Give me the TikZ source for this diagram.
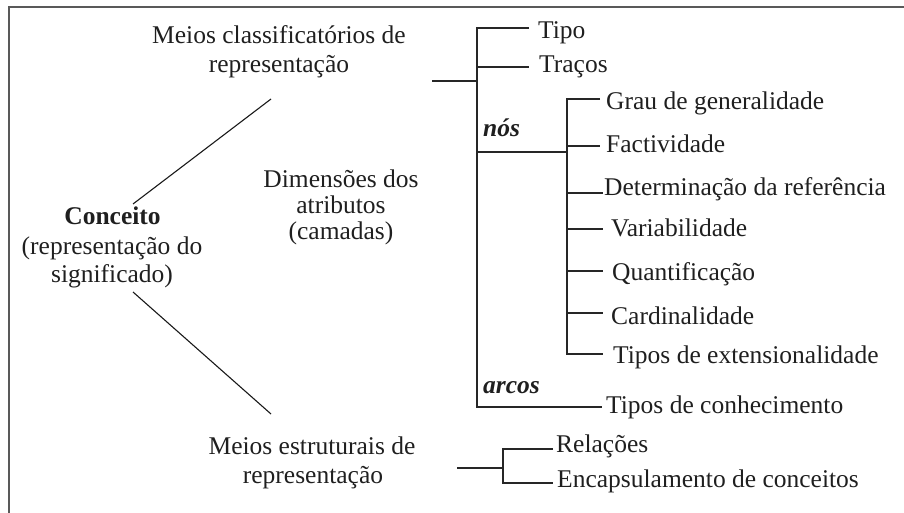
\documentclass[tikz,border=0pt]{standalone}
\usepackage{fontspec}
\setmainfont{Liberation Serif}
\begin{document}
\begin{tikzpicture}[x=1pt,y=-1pt,
  lbl/.style={inner sep=0pt, font=\fontsize{25.5}{30}\selectfont, text=black!88},
  lw/.style={lbl, anchor=base west},
  lc/.style={lbl, anchor=base},
  tree/.style={line width=1.6pt, draw=black!85},
  diag/.style={line width=1.1pt, draw=black!90},
  frame/.style={line width=2pt, draw=black!65}]
\useasboundingbox (0,0) rectangle (904,513);
% frame
\coordinate (f0) at (9,513);
\coordinate (f1) at (9,7.5);
\coordinate (f2) at (904,7.5);
\draw[frame] (f0) -- (f1) -- (f2);

% left labels
\node[lc] (c1) at (112.5,224) {\textbf{Conceito}};
\node[lc] (c2) at (112,254) {(representação do};
\node[lc] (c3) at (112,282) {significado)};
\node[lc] (m1) at (279,44) {Meios classificatórios de};
\node[lc] (m2) at (279,73) {representação};
\node[lc] (d1) at (341,188) {Dimensões dos};
\node[lc] (d2) at (341,213) {atributos};
\node[lc] (d3) at (341,239) {(camadas)};
\node[lc] (s1) at (312,454) {Meios estruturais de};
\node[lc] (s2) at (313,483) {representação};

% diagonals
\coordinate (u0) at (133,204);
\coordinate (u1) at (271,99);
\coordinate (l0) at (133,292);
\coordinate (l1) at (271,414);
\draw[diag] (u0) -- (u1);
\draw[diag] (l0) -- (l1);

% right labels
\node[lw] (tipo) at (538,39) {Tipo};
\node[lw] (tracos) at (539,73) {Traços};
\node[lw] (nos) at (483,137) {\textbf{\textit{nós}}};
\node[lw] (grau) at (606,110) {Grau de generalidade};
\node[lw] (fact) at (606,153) {Factividade};
\node[lw] (det) at (604,195) {Determinação da referência};
\node[lw] (var) at (611,236) {Variabilidade};
\node[lw] (quant) at (612,280) {Quantificação};
\node[lw] (card) at (611,324) {Cardinalidade};
\node[lw] (ext) at (613,363) {Tipos de extensionalidade};
\node[lw] (arcos) at (483,393) {\textbf{\textit{arcos}}};
\node[lw] (conh) at (606,413) {Tipos de conhecimento};
\node[lw] (rel) at (556,452) {Relações};
\node[lw] (enc) at (557,487) {Encapsulamento de conceitos};

% main tree
\coordinate (a0) at (432,81);
\coordinate (a1) at (477,81);
\coordinate (vT) at (477,28);
\coordinate (vB) at (477,407);
\coordinate (bTipo) at (529,28);
\coordinate (vTr) at (477,67);
\coordinate (bTr) at (529,67);
\coordinate (vN) at (477,152);
\coordinate (nJ) at (567,152);
\coordinate (bArc) at (602,407);
\draw[tree] (a0) -- (a1);
\draw[tree] (bTipo) -- (vT) -- (vB) -- (bArc);
\draw[tree] (vTr) -- (bTr);
\draw[tree] (vN) -- (nJ);

% nos subtree
\coordinate (sT) at (567,99);
\coordinate (sB) at (567,354);
\coordinate (g1) at (600,99);
\coordinate (s2a) at (567,146);
\coordinate (g2) at (600,146);
\coordinate (s3a) at (567,193);
\coordinate (g3) at (603,193);
\coordinate (s4a) at (567,229);
\coordinate (g4) at (603,229);
\coordinate (s5a) at (567,271);
\coordinate (g5) at (603,271);
\coordinate (s6a) at (567,313);
\coordinate (g6) at (603,313);
\coordinate (g7) at (603,354);
\draw[tree] (g1) -- (sT) -- (sB) -- (g7);
\draw[tree] (s2a) -- (g2);
\draw[tree] (s3a) -- (g3);
\draw[tree] (s4a) -- (g4);
\draw[tree] (s5a) -- (g5);
\draw[tree] (s6a) -- (g6);

% structural subtree
\coordinate (e0) at (457,468);
\coordinate (e1) at (503,468);
\coordinate (eT) at (503,449);
\coordinate (eB) at (503,483);
\coordinate (r1) at (553,449);
\coordinate (r2) at (553,483);
\draw[tree] (e0) -- (e1);
\draw[tree] (r1) -- (eT) -- (eB) -- (r2);
\end{tikzpicture}
\end{document}
